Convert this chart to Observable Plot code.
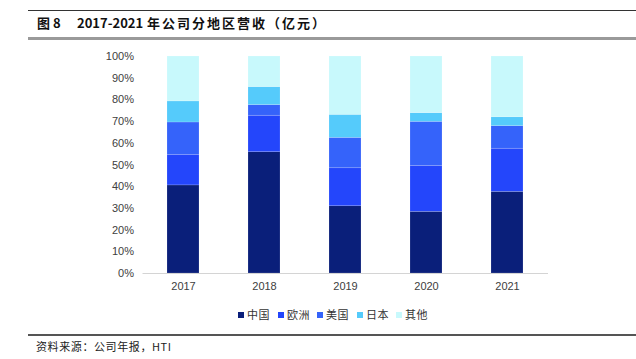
<!DOCTYPE html>
<html>
<head>
<meta charset="utf-8">
<script src="https://cdn.jsdelivr.net/npm/d3@7"></script>
<script src="https://cdn.jsdelivr.net/npm/@observablehq/plot@0.6"></script>
<style>
  html, body { margin: 0; padding: 0; background: #fff; }
  #wrap { position: relative; width: 636px; height: 359px; overflow: hidden; font-family: "Liberation Sans", Arial, sans-serif; }
  .topline { position: absolute; left: 28px; right: 0; top: 10px; height: 1px; background: #333; }
  .title { position: absolute; top: 14px; font-family: "Noto Sans CJK SC", "Liberation Sans", sans-serif; font-weight: bold; font-size: 13px; color: #111; white-space: pre; line-height: 18px; }
  .titleline { position: absolute; left: 28px; right: 0; top: 37px; height: 3px; background: #9a9a9a; }
  #chart { position: absolute; left: 0; top: 40px; }
  .legend { position: absolute; top: 306px; left: 0; font-family: "Noto Sans CJK SC", sans-serif; font-size: 11px; color: #333; }
  .legend span.item { position: absolute; white-space: nowrap; line-height: 16px; letter-spacing: 0.5px; }
  .legend i { display: inline-block; width: 6px; height: 6px; margin-right: 3px; vertical-align: 1px; }
  .capline { position: absolute; left: 28px; right: 0; top: 334px; height: 2px; background: #555; }
  .caption { position: absolute; left: 36px; top: 339px; font-family: "Noto Sans CJK SC", sans-serif; font-size: 11px; color: #222; line-height: 15px; letter-spacing: 0.6px; }
</style>
</head>
<body>
<div id="wrap">
  <div class="topline"></div>
  <div class="title" id="t1" style="left:37px"></div>
  <div class="title" id="t2" style="left:77px"></div>
  <div class="title" id="t3" style="left:147px; letter-spacing:2px"></div>
  <div class="titleline"></div>
  <div id="chart"></div>
  <div class="legend" id="legend"></div>
  <div class="capline"></div>
  <div class="caption" id="caption"></div>
</div>
<script>
const years = ["2017", "2018", "2019", "2020", "2021"];
const regions = ["中国", "欧洲", "美国", "日本", "其他"];
const colors = ["#0A1F7A", "#2446FB", "#3563FA", "#55CBFB", "#C8F9FC"];
const china  = [40.6, 55.9, 31.0, 28.4, 37.6];
const europe = [14.1, 16.8, 17.5, 21.2, 19.9];
const usa    = [14.9, 4.9, 14.0, 20.3, 10.4];
const japan  = [9.7, 8.3, 10.6, 4.0, 4.1];
const other  = [20.7, 14.1, 26.9, 26.1, 28.0];
const yTicks = [0, 10, 20, 30, 40, 50, 60, 70, 80, 90, 100];
const titleParts = ["图 8", "2017-2021", "年公司分地区营收（亿元）"];
const captionText = "资料来源：公司年报，HTI";

const series = [china, europe, usa, japan, other];
const data = [];
regions.forEach((r, i) => years.forEach((y, j) => data.push({year: y, region: r, value: series[i][j]})));

document.getElementById("t1").textContent = titleParts[0];
document.getElementById("t2").textContent = titleParts[1];
document.getElementById("t3").textContent = titleParts[2];
document.getElementById("caption").textContent = captionText;

const chart = Plot.plot({
  width: 636,
  height: 260,
  marginLeft: 142.5,
  marginRight: 88,
  marginTop: 16,
  marginBottom: 27,
  style: { fontFamily: "'Liberation Sans', Arial, sans-serif", fontSize: "11px", color: "#404040", background: "transparent" },
  x: { domain: years, paddingInner: 0.6, paddingOuter: 0.3, label: null, tickSize: 0, tickPadding: 9 },
  y: { domain: [0, 100], ticks: yTicks, tickFormat: d => d + "%", label: null, tickSize: 0, tickPadding: 9 },
  color: { domain: regions, range: colors },
  marks: [
    Plot.barY(data, { x: "year", y: "value", fill: "region", order: regions, stroke: "#ffffff", strokeOpacity: 0.25, strokeWidth: 0.6 }),
    Plot.ruleY([0], { stroke: "#d4d4d4", strokeWidth: 1 })
  ]
});
document.getElementById("chart").appendChild(chart);

const legend = document.getElementById("legend");
const legendX = [238, 278, 317, 357, 396];
regions.forEach((r, i) => {
  const s = document.createElement("span");
  s.className = "item";
  s.style.left = legendX[i] + "px";
  const sw = document.createElement("i");
  sw.style.background = colors[i];
  s.appendChild(sw);
  s.appendChild(document.createTextNode(r));
  legend.appendChild(s);
});
</script>
</body>
</html>
